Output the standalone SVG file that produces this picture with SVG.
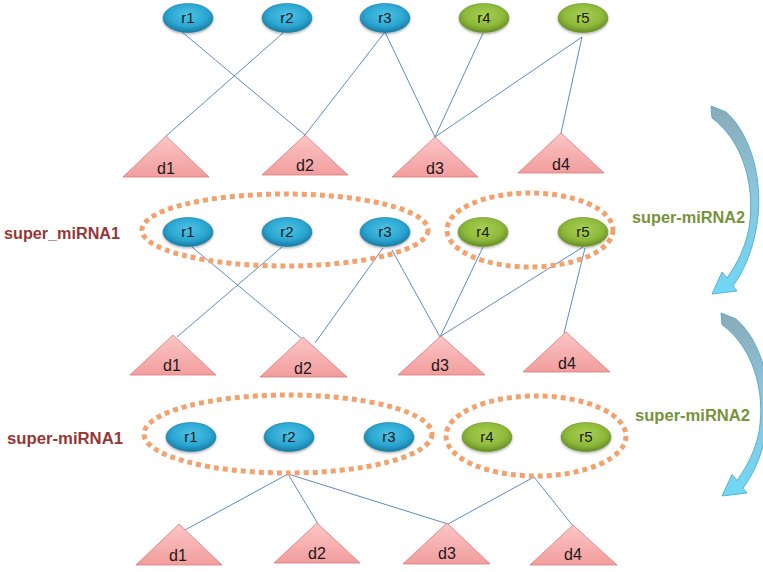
<svg xmlns="http://www.w3.org/2000/svg" width="763" height="572" viewBox="0 0 763 572">
<defs>
  <radialGradient id="gBlue" cx="50%" cy="40%" r="60%">
    <stop offset="0" stop-color="#4ec3e6"/>
    <stop offset="0.65" stop-color="#2aa6d1"/>
    <stop offset="1" stop-color="#1a7aa2"/>
  </radialGradient>
  <radialGradient id="gGreen" cx="50%" cy="40%" r="60%">
    <stop offset="0" stop-color="#a9d052"/>
    <stop offset="0.65" stop-color="#8db93a"/>
    <stop offset="1" stop-color="#668c24"/>
  </radialGradient>
  <linearGradient id="gTri" x1="0" y1="0" x2="0" y2="1">
    <stop offset="0" stop-color="#fbc6c6"/>
    <stop offset="1" stop-color="#f29d9d"/>
  </linearGradient>
  <linearGradient id="gArrow" x1="0" y1="0" x2="0" y2="1">
    <stop offset="0" stop-color="#8aaab6"/>
    <stop offset="0.45" stop-color="#8cc6dc"/>
    <stop offset="1" stop-color="#6fd8f6"/>
  </linearGradient>
  <filter id="sh" x="-20%" y="-20%" width="140%" height="160%">
    <feDropShadow dx="0" dy="1.5" stdDeviation="1.2" flood-color="#000" flood-opacity="0.3"/>
  </filter>
</defs>
<style>
  .blue{fill:url(#gBlue);stroke:#1d7ea5;stroke-width:0.6;filter:url(#sh)}
  .green{fill:url(#gGreen);stroke:#6a9128;stroke-width:0.6;filter:url(#sh)}
  .tri{fill:url(#gTri);stroke:#d97a7a;stroke-width:0.8}
  .lbl{font-family:"Liberation Sans",Arial,sans-serif;font-size:15px;fill:#1a1a1a;text-anchor:middle}
  .dl{font-family:"Liberation Sans",Arial,sans-serif;font-size:16px;fill:#1a1a1a;text-anchor:middle}
  .edge{stroke:#4a7ebb;stroke-width:0.9;fill:none}
  .grp{fill:none;stroke:#f1a26f;stroke-width:5;stroke-dasharray:5 4}
  .red{font-family:"Liberation Sans",Arial,sans-serif;font-size:16px;font-weight:bold;fill:#953735}
  .olive{font-family:"Liberation Sans",Arial,sans-serif;font-size:16px;font-weight:bold;fill:#77933c}
  .arrow{fill:url(#gArrow);stroke:#4fa9cc;stroke-width:0.9}
</style>

<!-- connectors -->
<g id="connectors">
  <line class="edge" x1="182" y1="32" x2="305" y2="135"/>
  <line class="edge" x1="283" y1="33" x2="166" y2="136"/>
  <line class="edge" x1="385" y1="32" x2="305" y2="135"/>
  <line class="edge" x1="385" y1="32" x2="435" y2="137"/>
  <line class="edge" x1="483" y1="33" x2="435" y2="137"/>
  <line class="edge" x1="582" y1="37" x2="435" y2="137"/>
  <line class="edge" x1="582" y1="37" x2="561" y2="133"/>

  <line class="edge" x1="192" y1="247" x2="301" y2="338"/>
  <line class="edge" x1="282" y1="247" x2="177" y2="337"/>
  <line class="edge" x1="383" y1="248" x2="315" y2="343"/>
  <line class="edge" x1="392" y1="250" x2="440" y2="337"/>
  <line class="edge" x1="483" y1="247" x2="440" y2="337"/>
  <line class="edge" x1="583" y1="247" x2="441" y2="336"/>
  <line class="edge" x1="585" y1="248" x2="564" y2="333"/>

  <line class="edge" x1="288" y1="474" x2="185" y2="530"/>
  <line class="edge" x1="288" y1="474" x2="318" y2="524"/>
  <line class="edge" x1="288" y1="474" x2="448" y2="524"/>
  <line class="edge" x1="534" y1="477" x2="448" y2="524"/>
  <line class="edge" x1="534" y1="477" x2="573" y2="526"/>
</g>

<!-- group outlines -->
<g id="groups">
  <ellipse id="grp-mid-1" class="grp" cx="285" cy="230" rx="143" ry="36"/>
  <ellipse id="grp-mid-2" class="grp" cx="530" cy="230" rx="83" ry="37"/>
  <ellipse id="grp-bot-1" class="grp" cx="288" cy="434" rx="144" ry="39"/>
  <ellipse id="grp-bot-2" class="grp" cx="536" cy="436" rx="90" ry="40"/>
</g>

<!-- labels -->
<g id="labels">
  <text class="red" x="4" y="239" textLength="116" lengthAdjust="spacingAndGlyphs">super_miRNA1</text>
  <text class="olive" x="632" y="223" textLength="113" lengthAdjust="spacingAndGlyphs">super-miRNA2</text>
  <text class="red" x="7" y="444" textLength="116" lengthAdjust="spacingAndGlyphs">super-miRNA1</text>
  <text class="olive" x="635" y="421" textLength="115" lengthAdjust="spacingAndGlyphs">super-miRNA2</text>
</g>

<!-- top row -->
<g id="t-r1"><ellipse class="blue" cx="188" cy="18" rx="25" ry="14.5"/><text class="lbl" x="188" y="23">r1</text></g>
<g id="t-r2"><ellipse class="blue" cx="287" cy="18" rx="25" ry="14.5"/><text class="lbl" x="287" y="23">r2</text></g>
<g id="t-r3"><ellipse class="blue" cx="385" cy="18" rx="25" ry="14.5"/><text class="lbl" x="385" y="23">r3</text></g>
<g id="t-r4"><ellipse class="green" cx="484" cy="18" rx="25" ry="14.5"/><text class="lbl" x="484" y="23">r4</text></g>
<g id="t-r5"><ellipse class="green" cx="583" cy="18" rx="25" ry="14.5"/><text class="lbl" x="583" y="23">r5</text></g>
<g id="t-d1"><polygon class="tri" points="166,136 209,177 123,177"/><text class="dl" x="166" y="174">d1</text></g>
<g id="t-d2"><polygon class="tri" points="305,135 348,175 262,175"/><text class="dl" x="305" y="171">d2</text></g>
<g id="t-d3"><polygon class="tri" points="435,137 478,177 392,177"/><text class="dl" x="435" y="174">d3</text></g>
<g id="t-d4"><polygon class="tri" points="561,133 604,173 518,173"/><text class="dl" x="561" y="170">d4</text></g>

<!-- middle row -->
<g id="m-r1"><ellipse class="blue" cx="188" cy="232" rx="25" ry="14.5"/><text class="lbl" x="188" y="237">r1</text></g>
<g id="m-r2"><ellipse class="blue" cx="287" cy="232" rx="25" ry="14.5"/><text class="lbl" x="287" y="237">r2</text></g>
<g id="m-r3"><ellipse class="blue" cx="385" cy="232" rx="25" ry="14.5"/><text class="lbl" x="385" y="237">r3</text></g>
<g id="m-r4"><ellipse class="green" cx="483" cy="232" rx="25" ry="14.5"/><text class="lbl" x="483" y="237">r4</text></g>
<g id="m-r5"><ellipse class="green" cx="583" cy="232" rx="25" ry="14.5"/><text class="lbl" x="583" y="237">r5</text></g>
<g id="m-d1"><polygon class="tri" points="173,335 216,375 130,375"/><text class="dl" x="172" y="371">d1</text></g>
<g id="m-d2"><polygon class="tri" points="303,337 347,377 260,377"/><text class="dl" x="303" y="374">d2</text></g>
<g id="m-d3"><polygon class="tri" points="441,336 485,375 398,375"/><text class="dl" x="440" y="371">d3</text></g>
<g id="m-d4"><polygon class="tri" points="566,332 610,372 523,372"/><text class="dl" x="567" y="369">d4</text></g>

<!-- bottom row -->
<g id="b-r1"><ellipse class="blue" cx="191" cy="437" rx="25" ry="14.5"/><text class="lbl" x="191" y="442">r1</text></g>
<g id="b-r2"><ellipse class="blue" cx="289" cy="437" rx="25" ry="14.5"/><text class="lbl" x="289" y="442">r2</text></g>
<g id="b-r3"><ellipse class="blue" cx="389" cy="437" rx="25" ry="14.5"/><text class="lbl" x="389" y="442">r3</text></g>
<g id="b-r4"><ellipse class="green" cx="487" cy="437" rx="25" ry="14.5"/><text class="lbl" x="487" y="442">r4</text></g>
<g id="b-r5"><ellipse class="green" cx="586" cy="437" rx="25" ry="14.5"/><text class="lbl" x="586" y="442">r5</text></g>
<g id="b-d1"><polygon class="tri" points="179,524 222,565 136,565"/><text class="dl" x="178" y="561">d1</text></g>
<g id="b-d2"><polygon class="tri" points="317,523 360,563 274,563"/><text class="dl" x="317" y="559">d2</text></g>
<g id="b-d3"><polygon class="tri" points="447,523 490,564 403,564"/><text class="dl" x="447" y="559">d3</text></g>
<g id="b-d4"><polygon class="tri" points="573,525 617,565 530,565"/><text class="dl" x="573" y="560">d4</text></g>

<!-- curved arrows -->
<g id="arrow1">
  <path class="arrow" d="M711,106 L726,112 C752,135 765,185 756,230 C751,255 743,272 733,286 L737,291 L712,294 L722,272 L727,278 C738,262 745,248 749,228 C756,185 742,140 712,118 Z"/>
</g>
<g id="arrow2">
  <path class="arrow" transform="matrix(1,0,0,0.973,10,209.9)" d="M711,106 L726,112 C752,135 765,185 756,230 C751,255 743,272 733,286 L737,291 L712,294 L722,272 L727,278 C738,262 745,248 749,228 C756,185 742,140 712,118 Z"/>
</g>
</svg>
